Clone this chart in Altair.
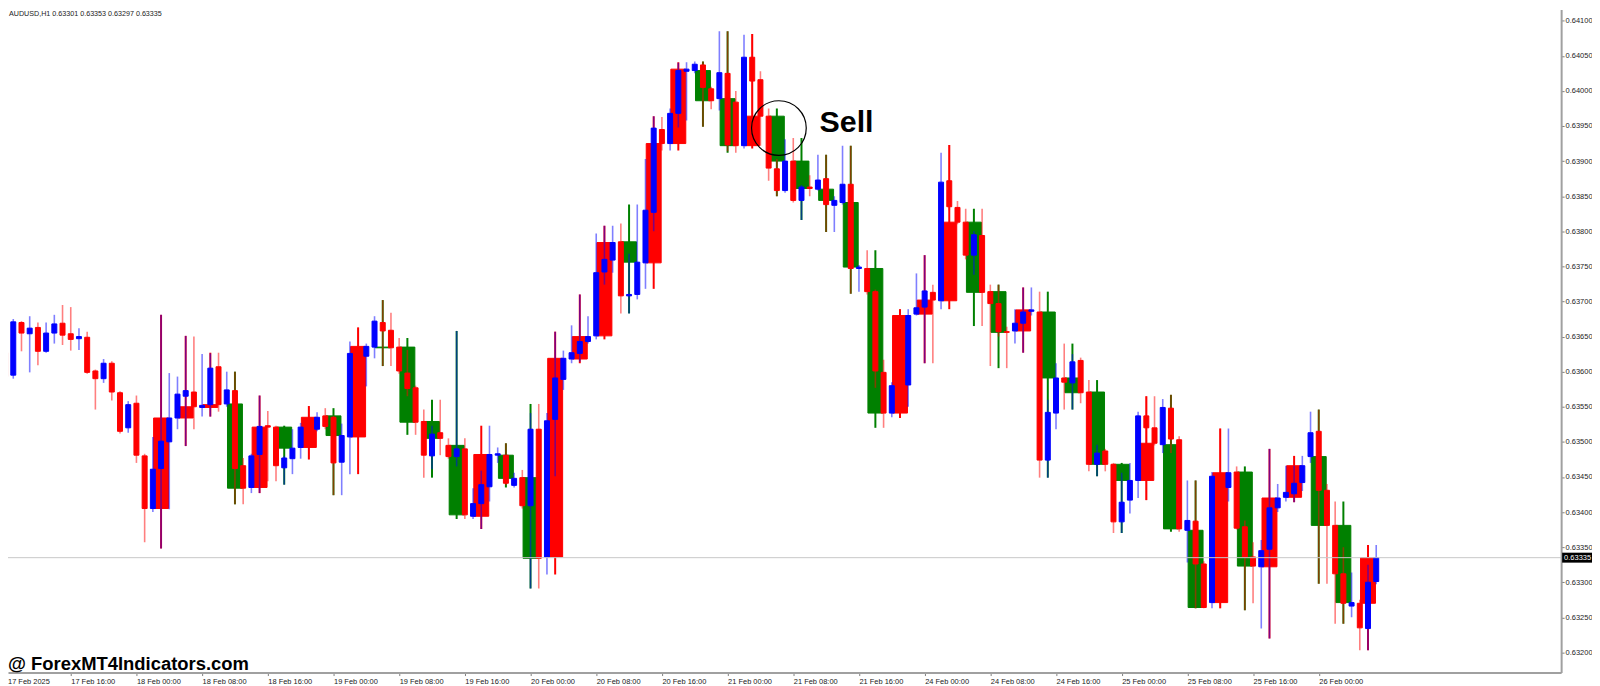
import json

import altair as alt
import numpy as np
import pandas as pd

# AUDUSD H1 candles (bar 0 = 17 Feb 08:00)
opens = [0.63627, 0.63595, 0.63670, 0.63654, 0.63663, 0.63629, 0.63655, 0.63669, 0.63654, 0.63647,
         0.63649, 0.63601, 0.63590, 0.63612, 0.63570, 0.63520, 0.63555, 0.63480, 0.63405, 0.63462,
         0.63500, 0.63534, 0.63565, 0.63571, 0.63549, 0.63553, 0.63607, 0.63554, 0.63573, 0.63466,
         0.63435, 0.63482, 0.63523, 0.63521, 0.63463, 0.63476, 0.63492, 0.63522, 0.63518, 0.63537,
         0.63535, 0.63471, 0.63507, 0.63626, 0.63622, 0.63635, 0.63670, 0.63659, 0.63635, 0.63598,
         0.63577, 0.63529, 0.63480, 0.63513, 0.63495, 0.63479, 0.63490, 0.63394, 0.63412, 0.63436,
         0.63481, 0.63481, 0.63438, 0.63449, 0.63409, 0.63518, 0.63336, 0.63532, 0.63589, 0.63618,
         0.63626, 0.63643, 0.63651, 0.63742, 0.63759, 0.63785, 0.63708, 0.63710, 0.63755, 0.63827,
         0.63945, 0.63925, 0.63968, 0.64028, 0.64029, 0.64037, 0.64003, 0.63989, 0.64025, 0.63984,
         0.63922, 0.64048, 0.64016, 0.63964, 0.63889, 0.63858, 0.63900, 0.63844, 0.63863, 0.63860,
         0.63875, 0.63837, 0.63841, 0.63867, 0.63747, 0.63747, 0.63714, 0.63599, 0.63541, 0.63582,
         0.63581, 0.63682, 0.63692, 0.63713, 0.63701, 0.63872, 0.63834, 0.63813, 0.63766, 0.63794,
         0.63714, 0.63697, 0.63657, 0.63658, 0.63669, 0.63686, 0.63685, 0.63474, 0.63541, 0.63591,
         0.63584, 0.63616, 0.63571, 0.63468, 0.63487, 0.63468, 0.63386, 0.63417, 0.63445, 0.63537,
         0.63520, 0.63496, 0.63548, 0.63503, 0.63374, 0.63387, 0.63326, 0.63271, 0.63451, 0.63435,
         0.63457, 0.63379, 0.63336, 0.63322, 0.63347, 0.63406, 0.63421, 0.63426, 0.63442, 0.63479,
         0.63515, 0.63431, 0.63381, 0.63312, 0.63266, 0.63270, 0.63234, 0.63301]

highs = [0.63641, 0.63675, 0.63672, 0.63679, 0.63670, 0.63670, 0.63681, 0.63695, 0.63692, 0.63662,
         0.63657, 0.63603, 0.63618, 0.63615, 0.63572, 0.63558, 0.63566, 0.63483, 0.63507, 0.63681,
         0.63598, 0.63593, 0.63651, 0.63650, 0.63625, 0.63626, 0.63627, 0.63600, 0.63600, 0.63477,
         0.63483, 0.63566, 0.63544, 0.63523, 0.63480, 0.63518, 0.63527, 0.63551, 0.63542, 0.63548,
         0.63537, 0.63526, 0.63643, 0.63663, 0.63640, 0.63679, 0.63702, 0.63684, 0.63648, 0.63631,
         0.63580, 0.63546, 0.63523, 0.63560, 0.63505, 0.63658, 0.63505, 0.63434, 0.63459, 0.63523,
         0.63492, 0.63498, 0.63456, 0.63460, 0.63541, 0.63554, 0.63541, 0.63657, 0.63630, 0.63666,
         0.63710, 0.63679, 0.63797, 0.63808, 0.63808, 0.63811, 0.63768, 0.63838, 0.63903, 0.63964,
         0.63963, 0.63975, 0.64040, 0.64041, 0.64042, 0.64042, 0.64006, 0.64085, 0.64085, 0.64000,
         0.64080, 0.64081, 0.64028, 0.63975, 0.63903, 0.63931, 0.63933, 0.63866, 0.63880, 0.63909,
         0.63909, 0.63850, 0.63922, 0.63922, 0.63752, 0.63773, 0.63717, 0.63617, 0.63585, 0.63689,
         0.63689, 0.63740, 0.63766, 0.63724, 0.63912, 0.63923, 0.63843, 0.63832, 0.63800, 0.63832,
         0.63724, 0.63724, 0.63664, 0.63689, 0.63720, 0.63720, 0.63714, 0.63560, 0.63612, 0.63640,
         0.63625, 0.63620, 0.63588, 0.63496, 0.63490, 0.63470, 0.63456, 0.63470, 0.63543, 0.63565,
         0.63565, 0.63561, 0.63567, 0.63508, 0.63445, 0.63445, 0.63330, 0.63457, 0.63519, 0.63519,
         0.63465, 0.63388, 0.63357, 0.63360, 0.63490, 0.63440, 0.63466, 0.63466, 0.63480, 0.63543,
         0.63546, 0.63440, 0.63415, 0.63350, 0.63314, 0.63275, 0.63325, 0.63353]

lows = [0.63574, 0.63590, 0.63629, 0.63599, 0.63609, 0.63627, 0.63640, 0.63638, 0.63630, 0.63631,
        0.63597, 0.63546, 0.63584, 0.63559, 0.63512, 0.63513, 0.63470, 0.63357, 0.63400, 0.63348,
        0.63404, 0.63518, 0.63494, 0.63518, 0.63536, 0.63536, 0.63543, 0.63550, 0.63411, 0.63411,
        0.63427, 0.63427, 0.63444, 0.63444, 0.63439, 0.63454, 0.63476, 0.63475, 0.63515, 0.63518,
        0.63424, 0.63424, 0.63454, 0.63600, 0.63579, 0.63619, 0.63608, 0.63608, 0.63597, 0.63565,
        0.63510, 0.63449, 0.63461, 0.63481, 0.63476, 0.63465, 0.63390, 0.63390, 0.63376, 0.63415,
        0.63470, 0.63438, 0.63435, 0.63405, 0.63291, 0.63291, 0.63311, 0.63451, 0.63574, 0.63612,
        0.63614, 0.63640, 0.63646, 0.63724, 0.63741, 0.63683, 0.63683, 0.63703, 0.63718, 0.63800,
        0.63915, 0.63915, 0.63948, 0.63958, 0.64025, 0.63949, 0.63974, 0.63972, 0.63914, 0.63912,
        0.63918, 0.63922, 0.63922, 0.63872, 0.63850, 0.63855, 0.63841, 0.63816, 0.63850, 0.63858,
        0.63799, 0.63799, 0.63838, 0.63711, 0.63714, 0.63710, 0.63577, 0.63520, 0.63535, 0.63534,
        0.63550, 0.63680, 0.63612, 0.63612, 0.63689, 0.63830, 0.63810, 0.63760, 0.63738, 0.63665,
        0.63608, 0.63650, 0.63605, 0.63640, 0.63627, 0.63680, 0.63449, 0.63449, 0.63518, 0.63546,
        0.63546, 0.63555, 0.63458, 0.63451, 0.63458, 0.63370, 0.63370, 0.63398, 0.63420, 0.63417,
        0.63495, 0.63484, 0.63484, 0.63372, 0.63328, 0.63263, 0.63263, 0.63263, 0.63263, 0.63415,
        0.63375, 0.63260, 0.63270, 0.63234, 0.63220, 0.63400, 0.63415, 0.63414, 0.63430, 0.63470,
        0.63298, 0.63298, 0.63241, 0.63241, 0.63250, 0.63203, 0.63203, 0.63297]

closes = [0.63593, 0.63671, 0.63655, 0.63662, 0.63629, 0.63655, 0.63668, 0.63652, 0.63646, 0.63650,
          0.63599, 0.63590, 0.63612, 0.63571, 0.63515, 0.63553, 0.63481, 0.63405, 0.63461, 0.63501,
          0.63534, 0.63568, 0.63573, 0.63550, 0.63552, 0.63605, 0.63553, 0.63574, 0.63462, 0.63434,
          0.63480, 0.63522, 0.63521, 0.63466, 0.63477, 0.63491, 0.63521, 0.63521, 0.63535, 0.63522,
          0.63470, 0.63509, 0.63626, 0.63624, 0.63636, 0.63672, 0.63658, 0.63634, 0.63601, 0.63576,
          0.63528, 0.63481, 0.63511, 0.63505, 0.63479, 0.63490, 0.63396, 0.63412, 0.63439, 0.63482,
          0.63483, 0.63441, 0.63448, 0.63409, 0.63518, 0.63334, 0.63530, 0.63591, 0.63619, 0.63627,
          0.63643, 0.63650, 0.63741, 0.63760, 0.63784, 0.63708, 0.63710, 0.63756, 0.63830, 0.63947,
          0.63925, 0.63968, 0.64029, 0.64031, 0.64038, 0.64005, 0.63986, 0.64026, 0.63923, 0.63922,
          0.64048, 0.64014, 0.63964, 0.63890, 0.63858, 0.63900, 0.63844, 0.63863, 0.63861, 0.63873,
          0.63838, 0.63844, 0.63867, 0.63747, 0.63749, 0.63714, 0.63601, 0.63541, 0.63580, 0.63580,
          0.63680, 0.63691, 0.63715, 0.63702, 0.63870, 0.63835, 0.63813, 0.63766, 0.63795, 0.63713,
          0.63697, 0.63657, 0.63656, 0.63669, 0.63685, 0.63688, 0.63474, 0.63542, 0.63591, 0.63585,
          0.63614, 0.63570, 0.63468, 0.63484, 0.63468, 0.63386, 0.63414, 0.63445, 0.63537, 0.63520,
          0.63498, 0.63549, 0.63504, 0.63376, 0.63388, 0.63326, 0.63264, 0.63451, 0.63435, 0.63456,
          0.63377, 0.63336, 0.63323, 0.63345, 0.63406, 0.63420, 0.63428, 0.63441, 0.63466, 0.63513,
          0.63431, 0.63381, 0.63312, 0.63270, 0.63271, 0.63235, 0.63300, 0.63335]

# the 3-hour overlay starts at this bar
first_overlay_bar = 18

x_tick_bars = [8, 16, 24, 32, 40, 48, 56, 64, 72, 80, 88, 96, 104, 112, 120, 128, 136, 144, 152, 160]
x_tick_labels = ["17 Feb 16:00", "18 Feb 00:00", "18 Feb 08:00", "18 Feb 16:00", "19 Feb 00:00",
                 "19 Feb 08:00", "19 Feb 16:00", "20 Feb 00:00", "20 Feb 08:00", "20 Feb 16:00",
                 "21 Feb 00:00", "21 Feb 08:00", "21 Feb 16:00", "24 Feb 00:00", "24 Feb 08:00",
                 "24 Feb 16:00", "25 Feb 00:00", "25 Feb 08:00", "25 Feb 16:00", "26 Feb 00:00"]
first_label = "17 Feb 2025"
y_ticks = [0.632, 0.6325, 0.633, 0.6335, 0.634, 0.6345, 0.635, 0.6355, 0.636, 0.6365,
           0.637, 0.6375, 0.638, 0.6385, 0.639, 0.6395, 0.640, 0.6405, 0.641]

symbol = "AUDUSD,H1"
sell_circle = {"bar": 94.25, "price": 0.63947}
sell_text = {"bar": 99.2, "price": 0.63942, "t": "Sell"}
watermark = "@ ForexMT4Indicators.com"

W, H = 1560, 666
FONT = "Liberation Sans"

bars = pd.DataFrame({"bar": range(len(opens)), "open": opens, "high": highs,
                     "low": lows, "close": closes})
bars["col"] = np.where(bars.close > bars.open, "#0000ff", "#ff0000")

g = bars[bars.bar >= first_overlay_bar].copy()
g["grp"] = (g.bar - first_overlay_bar) // 3
wide = g.groupby("grp").agg(bar=("bar", "median"), open=("open", "first"), close=("close", "last"),
                            high=("high", "max"), low=("low", "min")).reset_index()
wide["col"] = np.where(wide.close > wide.open, "#ff0000", "#008000")

last = pd.DataFrame({"price": [closes[-1]], "label": [f"{closes[-1]:.5f}"]})
header = pd.DataFrame({"t": [f"{symbol}  {opens[-1]:.5f} {highs[-1]:.5f} {lows[-1]:.5f} {closes[-1]:.5f}"]})

x_scale = alt.Scale(domain=[0.964, 188.916], nice=False, zero=False)
y_scale = alt.Scale(domain=[0.631713, 0.64116], nice=False, zero=False)

x_axis = alt.Axis(values=x_tick_bars, labelExpr=f"{json.dumps(x_tick_labels)}[round(datum.value/8)-1]",
                  title=None, grid=False, domainColor="#a0a0a0", domainWidth=2, tickColor="#808080",
                  tickSize=3, labelAlign="left", labelBaseline="top", labelPadding=2, labelFont=FONT,
                  labelFontSize=7.5, labelColor="#222222", labelFlush=False, labelOverlap=False)
y_axis = alt.Axis(orient="right", values=y_ticks, format=".5f", title=None, grid=False,
                  domainColor="#a0a0a0", domainWidth=2, tickColor="#808080", tickSize=3,
                  labelPadding=1, labelFont=FONT, labelFontSize=7.5, labelColor="#222222")


def px(field="bar"):
    return alt.X(f"{field}:Q", scale=x_scale, axis=x_axis)


def py(field):
    return alt.Y(f"{field}:Q", scale=y_scale, axis=y_axis)


wide_wick = alt.Chart(wide).mark_rule(strokeWidth=2, clip=True).encode(
    x=px(), y=py("low"), y2="high:Q",
    color=alt.Color("col:N", scale=None)
)
wide_body = alt.Chart(wide).mark_bar(size=15, strokeWidth=1, clip=True).encode(
    x=px(), y=py("open"), y2="close:Q",
    color=alt.Color("col:N", scale=None),
    stroke=alt.Stroke("col:N", scale=None)
)
wicks = alt.Chart(bars).mark_rule(strokeWidth=1.6, opacity=0.5, clip=True).encode(
    x=px(), y=py("low"), y2="high:Q",
    color=alt.Color("col:N", scale=None)
)
bodies = alt.Chart(bars).mark_bar(size=5, strokeWidth=1, clip=True).encode(
    x=px(), y=py("open"), y2="close:Q",
    color=alt.Color("col:N", scale=None),
    stroke=alt.Stroke("col:N", scale=None)
)

price_line = alt.Chart(last).mark_rule(color="#c8c8c8", strokeWidth=1).encode(y=py("price"))
price_box = alt.Chart(last).mark_rect(color="black", clip=False, yOffset=-5, y2Offset=5).encode(
    x=alt.value(W + 1), x2=alt.value(W + 32), y=py("price"), y2="price:Q"
)
price_txt = alt.Chart(last).mark_text(color="white", align="left", baseline="middle",
                                      font=FONT, fontSize=7.5, clip=False).encode(
    x=alt.value(W + 3), y=py("price"), text="label:N"
)

circle = alt.Chart(pd.DataFrame([sell_circle])).mark_point(
    shape="circle", size=3019, filled=False, color="black", strokeWidth=1.2, opacity=1
).encode(x=px(), y=py("price"))
sell = alt.Chart(pd.DataFrame([sell_text])).mark_text(
    align="left", baseline="alphabetic", font=FONT, fontSize=30.5, fontWeight="bold", color="black"
).encode(x=px(), y=py("price"), text="t:N")

head = alt.Chart(header).mark_text(align="left", baseline="top", font=FONT, fontSize=7.2,
                                   color="#222222").encode(
    x=alt.value(1), y=alt.value(1), text="t:N")
mark_site = alt.Chart(pd.DataFrame({"t": [watermark]})).mark_text(
    align="left", baseline="alphabetic", font=FONT, fontSize=18.5, fontWeight="bold", color="black"
).encode(x=alt.value(0), y=alt.value(H - 3), text="t:N")
first_tick = alt.Chart(pd.DataFrame({"t": [first_label]})).mark_text(
    align="left", baseline="top", font=FONT, fontSize=7.5, color="#222222", clip=False
).encode(x=alt.value(0), y=alt.value(H + 5), text="t:N")

chart = alt.layer(
    wide_wick, wide_body, wicks, bodies, price_line, price_box, price_txt,
    circle, sell, head, mark_site, first_tick
).properties(
    width=W, height=H,
    autosize=alt.AutoSizeParams(type="none"),
    padding={"left": 0, "top": 0, "right": 31, "bottom": 12}
).configure_view(stroke=None)

chart.save("out.html", embed_options={"renderer": "svg", "actions": False})
